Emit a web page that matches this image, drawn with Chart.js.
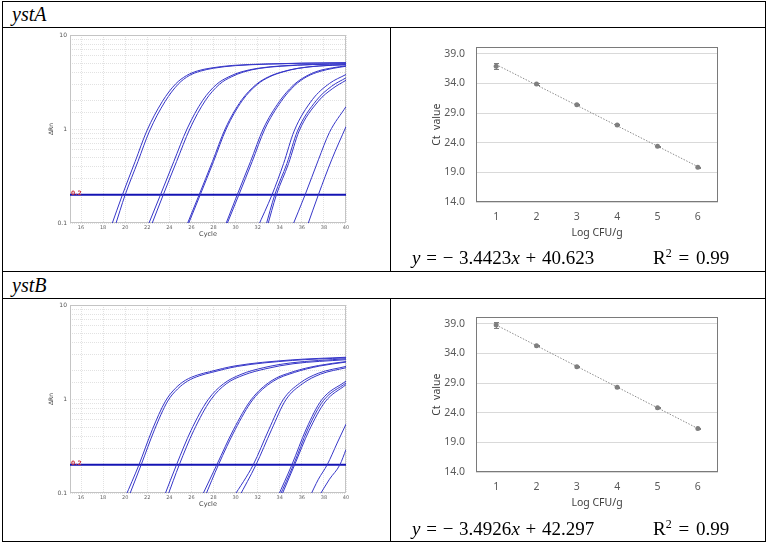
<!DOCTYPE html>
<html>
<head>
<meta charset="utf-8">
<script src="https://cdn.jsdelivr.net/npm/chart.js@4.4.1/dist/chart.umd.min.js"></script>
<style>
  body { margin:0; width:771px; height:547px; background:#fff; position:relative; overflow:hidden; }
  .ln { position:absolute; background:#000; }
  canvas { position:absolute; }
  .gene { position:absolute; font-family:"Liberation Serif", serif; font-style:italic; font-size:20px; line-height:20px; }
  .eq { position:absolute; font-family:"Liberation Serif", serif; font-size:19px; line-height:19px; white-space:pre; color:#000; word-spacing:1px; }
  .eq.r2 { word-spacing:2px; }
  .eq sup { font-size:12px; line-height:0; vertical-align:7px; }
</style>
</head>
<body>
<!-- table rules -->
<div class="ln" style="left:2px;top:1px;width:764px;height:1px"></div>
<div class="ln" style="left:2px;top:27px;width:764px;height:1px"></div>
<div class="ln" style="left:2px;top:271px;width:764px;height:1px"></div>
<div class="ln" style="left:2px;top:298px;width:764px;height:1px"></div>
<div class="ln" style="left:2px;top:541px;width:764px;height:1px"></div>
<div class="ln" style="left:2px;top:1px;width:1px;height:541px"></div>
<div class="ln" style="left:765px;top:1px;width:1px;height:541px"></div>
<div class="ln" style="left:390px;top:27px;width:1px;height:245px"></div>
<div class="ln" style="left:390px;top:298px;width:1px;height:244px"></div>

<div class="gene" style="left:12px;top:4px">ystA</div>
<div class="gene" style="left:12px;top:275px">ystB</div>

<canvas id="ampA" width="320" height="215" style="left:40px;top:25px"></canvas>
<canvas id="stdA" width="320" height="220" style="left:420px;top:30px"></canvas>
<canvas id="ampB" width="320" height="215" style="left:40px;top:295px"></canvas>
<canvas id="stdB" width="320" height="220" style="left:420px;top:300px"></canvas>

<div class="eq" style="left:412px;top:248px"><i>y</i> = − 3.4423<i>x</i> + 40.623</div>
<div class="eq r2" style="left:653px;top:248px">R<sup>2</sup> = 0.99</div>
<div class="eq" style="left:412px;top:519px"><i>y</i> = − 3.4926<i>x</i> + 42.297</div>
<div class="eq r2" style="left:653px;top:519px">R<sup>2</sup> = 0.99</div>

<script>
// amplification plot axes
const cycleTicks = [16, 18, 20, 22, 24, 26, 28, 30, 32, 34, 36, 38, 40];
const thresholdValue = 0.2;

// ystA amplification curves: [cycle, ΔRn]
const ystA_1 = [[18.7,0.09],[19.75,0.2],[20.9,0.45],[21.95,0.95],[23.35,1.95],[24.55,3.0],[25.55,3.7],[26.55,4.15],[27.75,4.45],[29.75,4.75],[32.75,4.92],[36,5.02],[40,5.08]];
const ystA_2 = [[19.05,0.09],[20.0,0.2],[21.15,0.45],[22.2,0.95],[23.6,1.95],[24.8,3.0],[25.8,3.7],[26.8,4.12],[28,4.43],[30,4.72],[33,4.9],[36,5.0],[40,5.05]];
const ystA_3 = [[22.0,0.09],[23.2,0.2],[24.4,0.45],[25.6,1.0],[27.0,2.0],[28.3,3.0],[29.4,3.6],[30.5,4.05],[32,4.42],[34,4.68],[37,4.87],[40,4.95]];
const ystA_4 = [[22.3,0.09],[23.45,0.2],[24.65,0.45],[25.85,1.0],[27.25,2.0],[28.55,3.0],[29.65,3.6],[30.75,4.05],[32.2,4.42],[34.2,4.66],[37,4.84],[40,4.92]];
const ystA_5 = [[25.5,0.09],[26.7,0.2],[27.9,0.45],[29.05,1.0],[30.5,2.0],[31.9,3.0],[33.0,3.6],[34.2,4.05],[35.6,4.42],[37.5,4.68],[40,4.85]];
const ystA_6 = [[25.6,0.09],[26.8,0.2],[28.0,0.45],[29.15,1.0],[30.6,2.0],[32.0,3.0],[33.1,3.6],[34.3,4.05],[35.7,4.42],[37.6,4.68],[40,4.82]];
const ystA_7 = [[29.0,0.09],[30.15,0.2],[31.35,0.45],[32.5,1.0],[33.95,1.95],[35.2,2.9],[36.3,3.6],[37.5,4.15],[38.8,4.48],[40,4.7]];
const ystA_8 = [[29.1,0.09],[30.3,0.2],[31.5,0.45],[32.65,1.0],[34.1,1.95],[35.35,2.9],[36.45,3.6],[37.65,4.1],[38.9,4.43],[40,4.65]];
const ystA_9 = [[32.0,0.09],[33.3,0.2],[34.35,0.43],[35.3,0.95],[36.95,2.05],[38.5,3.05],[40,3.8]];
const ystA_10 = [[32.7,0.09],[33.55,0.2],[34.65,0.43],[35.6,0.95],[37.3,2.0],[38.7,2.85],[40,3.5]];
const ystA_11 = [[32.85,0.09],[33.7,0.2],[34.8,0.43],[35.75,0.95],[37.5,1.98],[38.8,2.7],[40,3.3]];
const ystA_12 = [[35.1,0.09],[36.3,0.2],[37.5,0.47],[38.5,0.92],[40,1.73]];
const ystA_13 = [[36.45,0.09],[37.5,0.2],[38.7,0.47],[40,1.06]];

// ystB amplification curves: [cycle, ΔRn]
const ystB_1 = [[20.0,0.09],[21.25,0.2],[22.45,0.47],[23.65,0.95],[24.55,1.3],[25.45,1.58],[26.55,1.8],[27.65,1.95],[29.95,2.25],[34.95,2.6],[40,2.78]];
const ystB_2 = [[20.3,0.09],[21.45,0.2],[22.65,0.47],[23.85,0.95],[24.75,1.28],[25.65,1.55],[26.75,1.77],[27.85,1.92],[30.15,2.22],[35.15,2.57],[40,2.74]];
const ystB_3 = [[23.5,0.09],[24.65,0.2],[25.95,0.46],[27.5,0.98],[28.9,1.45],[30.5,1.83],[32.5,2.15],[35,2.42],[40,2.68]];
const ystB_4 = [[23.8,0.09],[24.9,0.2],[26.2,0.46],[27.75,0.98],[29.15,1.45],[30.75,1.8],[32.75,2.1],[35.2,2.37],[40,2.62]];
const ystB_5 = [[26.9,0.09],[28.3,0.2],[29.8,0.47],[31.4,0.98],[33.2,1.55],[35.2,1.95],[37.5,2.27],[40,2.5]];
const ystB_6 = [[27.2,0.09],[28.45,0.2],[29.95,0.47],[31.55,0.98],[33.35,1.53],[35.35,1.92],[37.6,2.24],[40,2.47]];
const ystB_7 = [[29.8,0.09],[31.6,0.2],[33.0,0.47],[34.3,0.98],[35.8,1.47],[37.5,1.88],[40,2.22]];
const ystB_8 = [[30.3,0.09],[31.85,0.2],[33.25,0.47],[34.55,0.98],[36.05,1.45],[37.7,1.84],[40,2.15]];
const ystB_9 = [[33.8,0.09],[35.1,0.2],[36.4,0.48],[37.8,0.98],[40,1.55]];
const ystB_10 = [[33.95,0.09],[35.25,0.2],[36.55,0.48],[37.95,0.96],[40,1.48]];
const ystB_11 = [[34.1,0.09],[35.35,0.2],[36.65,0.46],[38.1,0.93],[40,1.42]];
const ystB_12 = [[36.7,0.09],[37.5,0.14],[38.3,0.2],[39.2,0.34],[40,0.54]];
const ystB_13 = [[37.5,0.09],[38.5,0.14],[39.45,0.2],[40,0.29]];

// standard curves
const logCFU = [1, 2, 3, 4, 5, 6];
const ctTicks = [14, 19, 24, 29, 34, 39];
const ctA = [36.9, 33.9, 30.4, 27.0, 23.4, 19.85];
const sdA = [0.5, 0.1, 0.08, 0.08, 0.08, 0.08];
const ctB = [38.8, 35.3, 31.75, 28.3, 24.85, 21.35];
const sdB = [0.5, 0.1, 0.08, 0.08, 0.08, 0.08];
const trendX = [1, 6];
const trendA = [37.18, 19.97];
const trendB = [38.80, 21.34];

const boxPlugin = {
  id: 'box',
  beforeDatasetsDraw(chart, args, opts) {
    if (opts.front) return;
    drawBox(chart, opts.color);
  },
  afterDatasetsDraw(chart, args, opts) {
    if (opts.front) drawBox(chart, opts.color);
  }
};
function drawBox(chart, color) {
  const a = chart.chartArea, ctx = chart.ctx;
  ctx.save();
  ctx.strokeStyle = color;
  ctx.lineWidth = 1;
  ctx.strokeRect(Math.round(a.left) + 0.5, Math.round(a.top) + 0.5,
    Math.round(a.right - a.left) - 1, Math.round(a.bottom - a.top) - 1);
  ctx.restore();
}

const thrLabel = {
  id: 'thrLabel',
  afterDatasetsDraw(chart, args, opts) {
    if (!opts.show) return;
    const ctx = chart.ctx;
    const y = chart.scales.y.getPixelForValue(thresholdValue);
    ctx.save();
    ctx.fillStyle = '#c8323c';
    ctx.font = 'bold 6px "DejaVu Sans"';
    ctx.textBaseline = 'middle';
    ctx.fillText(thresholdValue.toFixed(1), chart.chartArea.left + 1, y - 1.5);
    ctx.restore();
  }
};

const errBars = {
  id: 'errBars',
  afterDatasetsDraw(chart, args, opts) {
    if (!opts.sd) return;
    const ctx = chart.ctx, xs = chart.scales.x, ys = chart.scales.y;
    ctx.save();
    ctx.strokeStyle = '#7f7f7f';
    ctx.lineWidth = 1;
    opts.x.forEach((xv, i) => {
      const px = Math.round(xs.getPixelForValue(xv)) + 0.5;
      const y1 = Math.round(ys.getPixelForValue(opts.y[i] + opts.sd[i])) + 0.5;
      const y2 = Math.round(ys.getPixelForValue(opts.y[i] - opts.sd[i])) + 0.5;
      ctx.beginPath();
      ctx.moveTo(px, y1); ctx.lineTo(px, y2);
      ctx.moveTo(px - 2.5, y1); ctx.lineTo(px + 2.5, y1);
      ctx.moveTo(px - 2.5, y2); ctx.lineTo(px + 2.5, y2);
      ctx.stroke();
    });
    ctx.restore();
  }
};

function makeAmp(id, curves) {
  const sets = curves.map(c => ({
    data: c.map(p => ({ x: p[0], y: p[1] })),
    borderColor: '#3636c8',
    borderWidth: 1,
    pointRadius: 0,
    cubicInterpolationMode: 'monotone',
    clip: 0
  }));
  sets.push({
    data: [{ x: 15, y: thresholdValue }, { x: 40, y: thresholdValue }],
    borderColor: '#1414b4',
    borderWidth: 2,
    pointRadius: 0,
    clip: 0
  });
  return new Chart(document.getElementById(id), {
    type: 'line',
    data: { datasets: sets },
    options: {
      responsive: false,
      animation: false,
      events: [],
      layout: { padding: { top: 10, right: 14, left: 0, bottom: 0 } },
      plugins: {
        legend: { display: false },
        tooltip: { enabled: false },
        box: { color: '#c4c4c4', front: false },
        thrLabel: { show: true }
      },
      scales: {
        x: {
          type: 'linear', min: 15, max: 40,
          afterBuildTicks: s => { s.ticks = cycleTicks.map(v => ({ value: v })); },
          afterFit: s => { s.height = 17; },
          grid: { color: '#e2e2e2', drawTicks: false },
          border: { display: false, dash: [1, 1] },
          ticks: { font: { size: 5, family: 'DejaVu Sans' }, color: '#666', padding: 2, maxRotation: 0, autoSkip: false },
          title: { display: true, text: 'Cycle', font: { size: 6.5, family: 'DejaVu Sans' }, color: '#444', padding: { top: 0, bottom: 2 } }
        },
        y: {
          type: 'logarithmic', min: 0.1, max: 10,
          afterFit: s => { s.width = 30; },
          grid: { color: '#e2e2e2', drawTicks: false },
          border: { display: false, dash: [1, 1] },
          ticks: {
            font: { size: 6, family: 'DejaVu Sans' }, color: '#555', padding: 3, autoSkip: false,
            callback: v => {
              if (Math.abs(v - 0.1) < 1e-9) return '0.1';
              if (Math.abs(v - 1) < 1e-9) return '1';
              if (Math.abs(v - 10) < 1e-9) return '10';
              return '';
            }
          },
          title: { display: true, text: 'ΔRn', font: { size: 6, family: 'DejaVu Sans' }, color: '#444', padding: { top: 8, bottom: 0 } }
        }
      }
    },
    plugins: [boxPlugin, thrLabel]
  });
}

function makeStd(id, ct, sd, trend) {
  return new Chart(document.getElementById(id), {
    type: 'line',
    data: {
      datasets: [
        {
          data: logCFU.map((x, i) => ({ x: x, y: ct[i] })),
          showLine: false,
          pointRadius: 2.5,
          pointBackgroundColor: '#7f7f7f',
          pointBorderColor: '#7f7f7f',
          pointBorderWidth: 0
        },
        {
          data: trendX.map((x, i) => ({ x: x, y: trend[i] })),
          borderColor: '#8c8c8c',
          borderWidth: 1,
          borderDash: [1.5, 1.5],
          pointRadius: 0
        }
      ]
    },
    options: {
      responsive: false,
      animation: false,
      events: [],
      layout: { padding: { top: 8, right: 22, left: 0, bottom: 0 } },
      plugins: {
        legend: { display: false },
        tooltip: { enabled: false },
        box: { color: '#7a7a7a', front: true },
        errBars: { x: logCFU, y: ct, sd: sd }
      },
      scales: {
        x: {
          type: 'linear', min: 0.5, max: 6.5,
          afterBuildTicks: s => { s.ticks = logCFU.map(v => ({ value: v })); },
          afterFit: s => { s.height = 48; },
          grid: { display: false, drawTicks: false },
          border: { display: false },
          ticks: { font: { size: 10.5, family: 'Noto Sans' }, color: '#595959', padding: 9, maxRotation: 0 },
          title: { display: true, text: 'Log CFU/g', font: { size: 10.5, family: 'Noto Sans' }, color: '#404040', padding: { top: 0, bottom: 11 } }
        },
        y: {
          min: 14, max: 40.1,
          afterBuildTicks: s => { s.ticks = ctTicks.map(v => ({ value: v })); },
          afterFit: s => { s.width = 56; },
          grid: { color: '#d9d9d9', drawTicks: false },
          border: { display: false },
          ticks: { font: { size: 10.5, family: 'Noto Sans' }, color: '#595959', padding: 11, callback: v => v.toFixed(1) },
          title: { display: true, text: 'Ct  value', font: { size: 10.5, family: 'Noto Sans' }, color: '#404040', padding: { top: 11, bottom: 0 } }
        }
      }
    },
    plugins: [boxPlugin, errBars]
  });
}

makeAmp('ampA', [ystA_1, ystA_2, ystA_3, ystA_4, ystA_5, ystA_6, ystA_7, ystA_8, ystA_9, ystA_10, ystA_11, ystA_12, ystA_13]);
makeAmp('ampB', [ystB_1, ystB_2, ystB_3, ystB_4, ystB_5, ystB_6, ystB_7, ystB_8, ystB_9, ystB_10, ystB_11, ystB_12, ystB_13]);
makeStd('stdA', ctA, sdA, trendA);
makeStd('stdB', ctB, sdB, trendB);
</script>
</body>
</html>
